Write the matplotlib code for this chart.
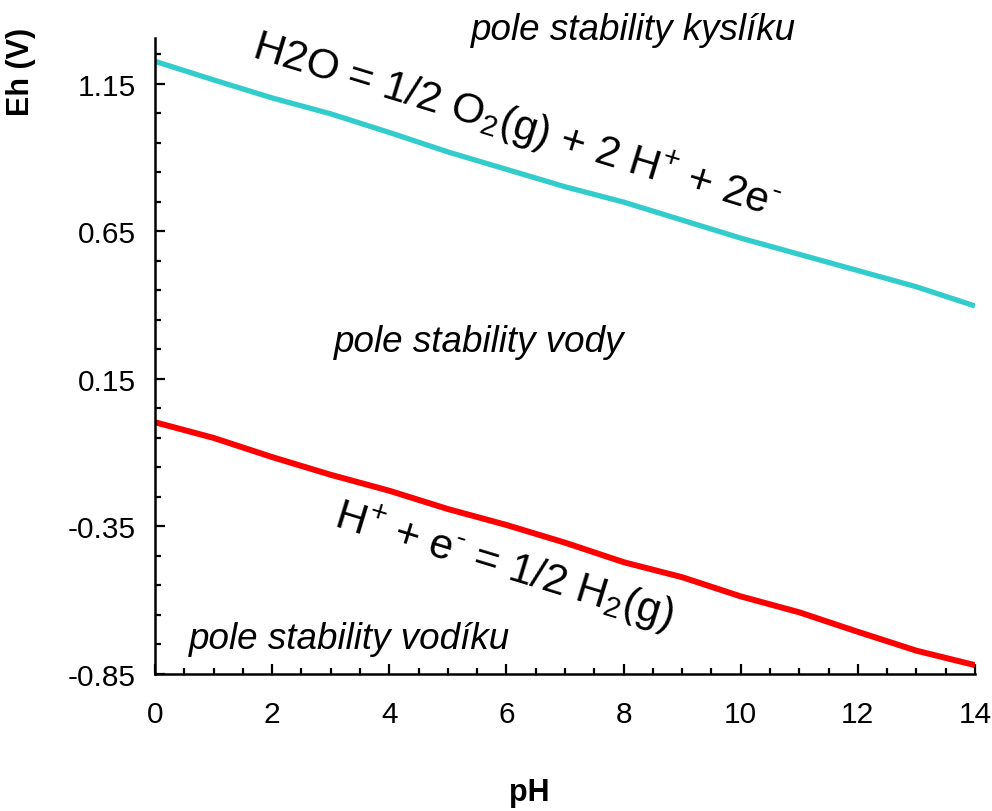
import matplotlib
matplotlib.use("Agg")
import matplotlib.pyplot as plt
import numpy as np
from matplotlib.ticker import FixedLocator, MultipleLocator

plt.rcParams["font.family"] = ["Liberation Sans", "DejaVu Sans"]
plt.rcParams["mathtext.fontset"] = "custom"
plt.rcParams["mathtext.rm"] = "Liberation Sans"
plt.rcParams["mathtext.it"] = "Liberation Sans:italic"
plt.rcParams["mathtext.bf"] = "Liberation Sans:bold"

# pH values and the two water-stability boundaries (Eh in V)
PH = [0, 1, 2, 3, 4, 5, 6, 7, 8, 9, 10, 11, 12, 13, 14]
EH_O2 = [1.226, 1.163, 1.102, 1.048, 0.985, 0.919, 0.860, 0.801,
         0.749, 0.688, 0.627, 0.572, 0.517, 0.462, 0.397]
EH_H2 = [0.003, -0.050, -0.115, -0.175, -0.229, -0.291, -0.345, -0.405,
         -0.471, -0.522, -0.587, -0.641, -0.707, -0.771, -0.820]

Y_TICKS = [-0.85, -0.35, 0.15, 0.65, 1.15]
X_TICKS = [0, 2, 4, 6, 8, 10, 12, 14]

fig = plt.figure(figsize=(9.92, 8.12), dpi=100)
ax = fig.add_axes([155 / 992, 1 - 675 / 812, 820 / 992, 636 / 812])

ax.plot(PH, EH_O2, color="#33CCCC", linewidth=3.8, solid_capstyle="butt")
ax.plot(PH, EH_H2, color="#FF0000", linewidth=4.3, solid_capstyle="butt")

ax.set_xlim(0, 14)
ax.set_ylim(-0.85, 1.305)

for side in ("top", "right"):
    ax.spines[side].set_visible(False)
for side in ("left", "bottom"):
    ax.spines[side].set_linewidth(1.8)

ax.xaxis.set_major_locator(FixedLocator(X_TICKS))
ax.xaxis.set_minor_locator(MultipleLocator(0.5))
ax.yaxis.set_major_locator(FixedLocator(Y_TICKS))
ax.yaxis.set_minor_locator(FixedLocator(np.arange(-0.85, 1.3, 0.1)))
ax.set_yticklabels([f"{v:.2f}" for v in Y_TICKS])
ax.tick_params(which="both", direction="in", width=1.6, labelsize=21.5)
ax.tick_params(which="major", length=7)
ax.tick_params(which="minor", length=4.5)
ax.tick_params(axis="x", which="major", pad=19)
ax.tick_params(axis="y", which="major", pad=14)

ax.set_xlabel("pH", fontsize=22, fontweight="bold")
ax.set_ylabel("Eh (V)", fontsize=22, fontweight="bold")
ax.xaxis.set_label_coords(0.457, -0.162)
ax.yaxis.set_label_coords(-0.145, 0.948)

ax.text(5.96, -0.481, r"H$^{\text{+}}$ + e$^{\text{-}}$ = 1/2 H$_2$(g)", fontsize=30.5,
        rotation=-17, rotation_mode="anchor", ha="center", va="center")
ax.text(6.16, 1.011, r"H2O = 1/2 O$_2$(g) + 2 H$^{\text{+}}$ + 2e$^{\text{-}}$", fontsize=30.5,
        rotation=-17, rotation_mode="anchor", ha="center", va="center")

ax.text(8.17, 1.335, "pole stability kyslíku", fontsize=26.5, style="italic",
        ha="center", va="center")
ax.text(5.53, 0.275, "pole stability vody", fontsize=26.5, style="italic",
        ha="center", va="center")
ax.text(3.33, -0.73, "pole stability vodíku", fontsize=26.5, style="italic",
        ha="center", va="center")

fig.savefig("out.png", dpi=100)
